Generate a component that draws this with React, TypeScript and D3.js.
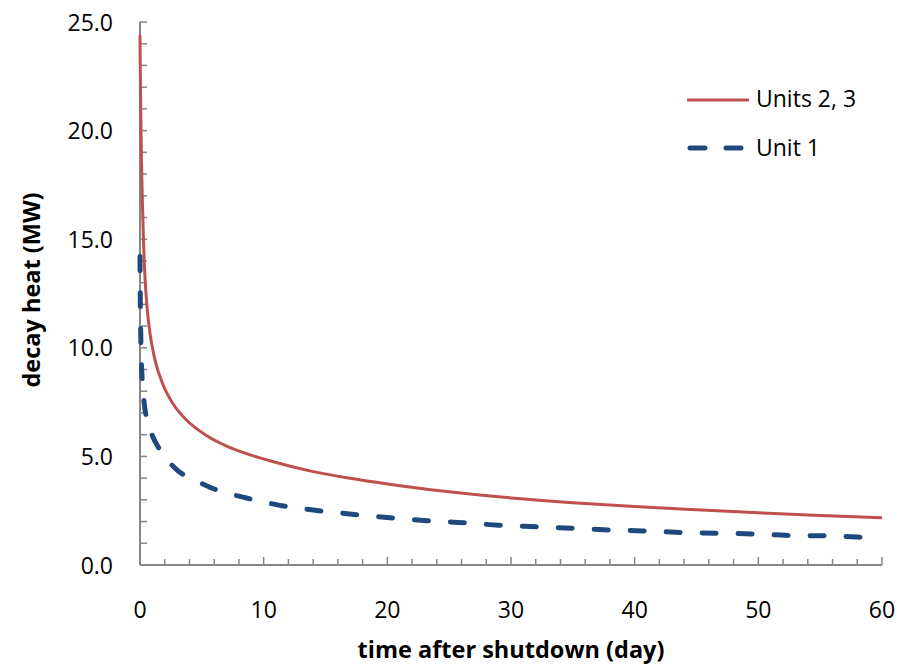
import React, { useEffect, useRef } from 'react';
import * as d3 from 'd3';

// days after shutdown / decay heat (MW)
const unit23Days = [0, 0.02, 0.06, 0.12, 0.19, 0.3, 0.4, 0.55, 0.8, 1.2, 1.9, 2.7, 3.8, 5.4, 7.3, 10.5, 14, 17, 20, 25, 30, 35, 40, 45, 50, 55, 60];
const unit23Heat = [24.4, 23, 20.9, 18.6, 16.8, 14.6, 13.3, 12.0, 10.7, 9.47, 8.25, 7.4, 6.65, 5.95, 5.4, 4.8, 4.3, 3.99, 3.73, 3.37, 3.09, 2.87, 2.69, 2.54, 2.4, 2.28, 2.18];

const unit1Days = [0, 0.02, 0.05, 0.1, 0.19, 0.35, 0.6, 1.0, 1.5, 2.2, 3.0, 4.0, 5.0, 6.0, 7.1, 8.5, 10, 12, 14.6, 17.3, 20.2, 23.2, 26.2, 29, 32, 35, 38, 40.7, 43.7, 46.7, 49.6, 52.6, 55.6, 58.4, 60];
const unit1Heat = [14.2, 12.5, 11, 9.6, 8.4, 7.4, 6.6, 5.95, 5.4, 4.85, 4.37, 4.0, 3.75, 3.5, 3.3, 3.1, 2.9, 2.68, 2.49, 2.33, 2.18, 2.04, 1.95, 1.83, 1.76, 1.69, 1.61, 1.57, 1.5, 1.46, 1.43, 1.36, 1.34, 1.28, 1.27];

const yTicks = [0, 5, 10, 15, 20, 25];
const xTicks = [0, 10, 20, 30, 40, 50, 60];
const seriesNames = ['Units 2, 3', 'Unit 1'];

export default function App() {
  const ref = useRef<SVGSVGElement>(null);

  useEffect(() => {
    const svg = d3.select(ref.current);
    svg.selectAll('*').remove();

    const font = '"Open Sans", sans-serif';
    const axisColor = '#868686';
    const x = d3.scaleLinear().domain([0, 60]).range([140, 882]);
    const y = d3.scaleLinear().domain([0, 25]).range([565, 22]);

    // minor ticks (every 1 MW, every 2 days)
    svg.append('g').selectAll('line')
      .data(d3.range(0, 26, 1))
      .enter().append('line')
      .attr('x1', x(0)).attr('x2', x(0) + 7)
      .attr('y1', d => y(d)).attr('y2', d => y(d))
      .attr('stroke', axisColor).attr('stroke-width', 1.5);

    svg.append('g').selectAll('line')
      .data(d3.range(0, 61, 2))
      .enter().append('line')
      .attr('x1', d => x(d)).attr('x2', d => x(d))
      .attr('y1', y(0)).attr('y2', d => y(0) - (d % 10 === 0 ? 8 : 6))
      .attr('stroke', axisColor).attr('stroke-width', 1.5);

    // axis lines
    svg.append('line')
      .attr('x1', x(0)).attr('x2', x(0)).attr('y1', y(0)).attr('y2', y(25))
      .attr('stroke', axisColor).attr('stroke-width', 2);
    svg.append('line')
      .attr('x1', x(0)).attr('x2', x(60)).attr('y1', y(0)).attr('y2', y(0))
      .attr('stroke', axisColor).attr('stroke-width', 2);

    svg.append('g').selectAll('text')
      .data(yTicks)
      .enter().append('text')
      .attr('x', 113).attr('y', d => y(d) + 8.5)
      .attr('text-anchor', 'end')
      .style('font-family', font).style('font-size', '23px')
      .text(d => d.toFixed(1));

    svg.append('g').selectAll('text')
      .data(xTicks)
      .enter().append('text')
      .attr('x', d => x(d)).attr('y', 618)
      .attr('text-anchor', 'middle')
      .style('font-family', font).style('font-size', '23px')
      .text(d => d);

    svg.append('text')
      .attr('x', 511).attr('y', 658)
      .attr('text-anchor', 'middle')
      .style('font-family', font).style('font-size', '23.5px').style('font-weight', 'bold')
      .text('time after shutdown (day)');

    svg.append('text')
      .attr('transform', 'translate(40,290) rotate(-90)')
      .attr('text-anchor', 'middle')
      .style('font-family', font).style('font-size', '23.5px').style('font-weight', 'bold')
      .text('decay heat (MW)');

    const line = d3.line<[number, number]>()
      .x(d => x(d[0]))
      .y(d => y(d[1]))
      .curve(d3.curveMonotoneX);

    const red: [number, number][] = unit23Days.map((t, i) => [t, unit23Heat[i]]);
    const blue: [number, number][] = unit1Days.map((t, i) => [t, unit1Heat[i]]);

    svg.append('path')
      .attr('d', line(blue))
      .attr('fill', 'none')
      .attr('stroke', '#1F497D').attr('stroke-width', 5)
      .attr('stroke-dasharray', '14 22').attr('stroke-linecap', 'round');

    svg.append('path')
      .attr('d', line(red))
      .attr('fill', 'none')
      .attr('stroke', '#C0504D').attr('stroke-width', 3);

    // legend
    const legend = svg.append('g');
    legend.append('line')
      .attr('x1', 687).attr('x2', 749).attr('y1', 100).attr('y2', 100)
      .attr('stroke', '#C0504D').attr('stroke-width', 3);
    legend.append('line')
      .attr('x1', 690).attr('x2', 746).attr('y1', 148).attr('y2', 148)
      .attr('stroke', '#1F497D').attr('stroke-width', 5)
      .attr('stroke-dasharray', '15 21').attr('stroke-linecap', 'round');
    legend.selectAll('text')
      .data(seriesNames)
      .enter().append('text')
      .attr('x', 756).attr('y', (d, i) => 107 + i * 49)
      .style('font-family', font).style('font-size', '23px')
      .text(d => d);
  }, []);

  return (
    <svg ref={ref} width={909} height={670}
      style={{ position: 'absolute', left: 0, top: 0, background: '#fff' }} />
  );
}
